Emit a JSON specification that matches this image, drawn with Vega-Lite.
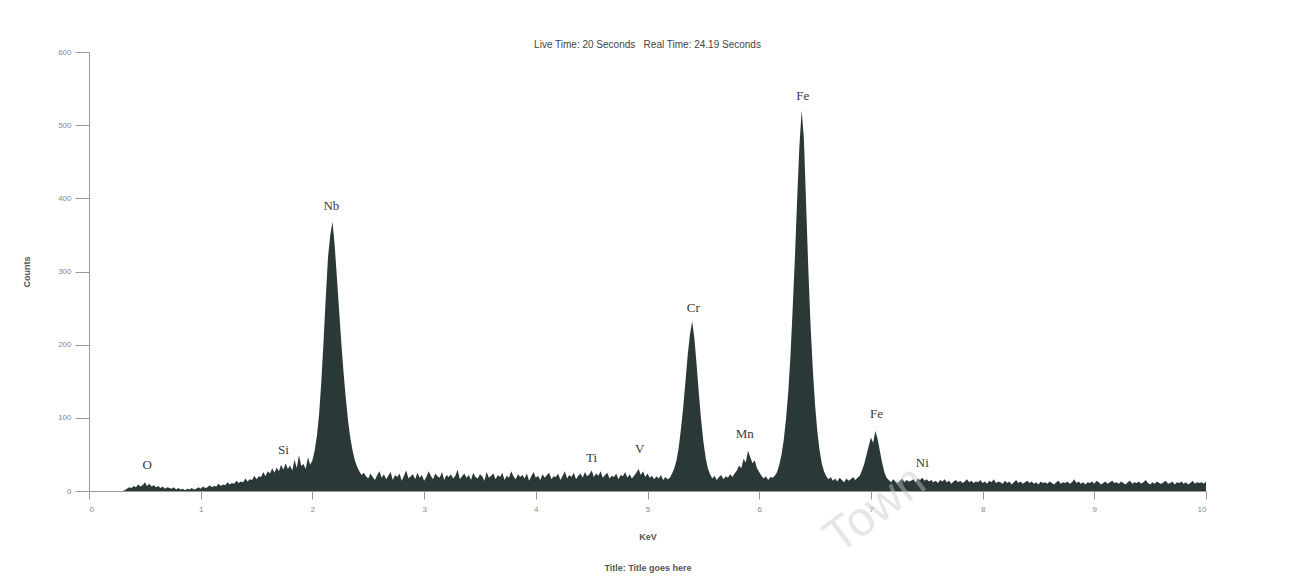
{
  "$schema": "https://vega.github.io/schema/vega-lite/v6.json",
  "width": 1117,
  "height": 439,
  "autosize": "none",
  "padding": {"left": 89, "top": 52, "right": 87, "bottom": 85},
  "background": "white",
  "config": {"view": {"stroke": null}, "font": "Liberation Sans"},
  "title": {"text": "Live Time: 20 Seconds\u00a0\u00a0\u00a0Real Time: 24.19 Seconds", "fontSize": 10, "fontWeight": "normal", "color": "#444", "offset": -2},
  "datasets": {
    "spec": [
      {"e":0,"c":0},{"e":0.02,"c":0},{"e":0.04,"c":0},{"e":0.06,"c":0},{"e":0.08,"c":0},{"e":0.1,"c":0},{"e":0.12,"c":0},{"e":0.14,"c":0},{"e":0.16,"c":0},{"e":0.18,"c":0},{"e":0.2,"c":0},{"e":0.22,"c":0},{"e":0.24,"c":0},{"e":0.26,"c":0},{"e":0.28,"c":0},{"e":0.3,"c":0},
      {"e":0.32,"c":1},{"e":0.34,"c":3},{"e":0.36,"c":5},{"e":0.38,"c":4},{"e":0.4,"c":7},{"e":0.42,"c":5},{"e":0.44,"c":9},{"e":0.46,"c":6},{"e":0.48,"c":8},{"e":0.5,"c":12},{"e":0.52,"c":7},{"e":0.54,"c":10},{"e":0.56,"c":6},{"e":0.58,"c":8},{"e":0.6,"c":5},{"e":0.62,"c":7},{"e":0.64,"c":4},{"e":0.66,"c":6},{"e":0.68,"c":3},{"e":0.7,"c":5},{"e":0.72,"c":4},{"e":0.74,"c":3},{"e":0.76,"c":5},{"e":0.78,"c":2},{"e":0.8,"c":4},{"e":0.82,"c":2},{"e":0.84,"c":3},{"e":0.86,"c":1},{"e":0.88,"c":3},{"e":0.9,"c":2},{"e":0.92,"c":4},{"e":0.94,"c":2},{"e":0.96,"c":3},{"e":0.98,"c":5},
      {"e":1,"c":3},{"e":1.02,"c":6},{"e":1.04,"c":4},{"e":1.06,"c":5},{"e":1.08,"c":8},{"e":1.1,"c":5},{"e":1.12,"c":7},{"e":1.14,"c":6},{"e":1.16,"c":10},{"e":1.18,"c":7},{"e":1.2,"c":9},{"e":1.22,"c":8},{"e":1.24,"c":12},{"e":1.26,"c":9},{"e":1.28,"c":11},{"e":1.3,"c":10},{"e":1.32,"c":14},{"e":1.34,"c":11},{"e":1.36,"c":13},{"e":1.38,"c":12},{"e":1.4,"c":17},{"e":1.42,"c":13},{"e":1.44,"c":16},{"e":1.46,"c":15},{"e":1.48,"c":21},{"e":1.5,"c":16},{"e":1.52,"c":20},{"e":1.54,"c":19},{"e":1.56,"c":26},{"e":1.58,"c":20},{"e":1.6,"c":27},{"e":1.62,"c":24},{"e":1.64,"c":31},{"e":1.66,"c":25},{"e":1.68,"c":32},{"e":1.7,"c":27},{"e":1.72,"c":36},{"e":1.74,"c":29},{"e":1.76,"c":38},{"e":1.78,"c":30},{"e":1.8,"c":35},{"e":1.82,"c":28},{"e":1.84,"c":43},{"e":1.86,"c":31},{"e":1.88,"c":49},{"e":1.9,"c":34},{"e":1.92,"c":37},{"e":1.94,"c":30},{"e":1.96,"c":46},{"e":1.98,"c":36},{"e":2,"c":42},
      {"e":2.02,"c":55},{"e":2.04,"c":75},{"e":2.06,"c":105},{"e":2.08,"c":150},{"e":2.1,"c":205},{"e":2.12,"c":265},{"e":2.14,"c":320},{"e":2.16,"c":350},{"e":2.18,"c":368},{"e":2.2,"c":335},{"e":2.22,"c":290},{"e":2.24,"c":245},{"e":2.26,"c":200},{"e":2.28,"c":160},{"e":2.3,"c":125},{"e":2.32,"c":95},{"e":2.34,"c":72},{"e":2.36,"c":55},{"e":2.38,"c":42},{"e":2.4,"c":33},{"e":2.42,"c":27},{"e":2.44,"c":22},{"e":2.46,"c":25},
      {"e":2.48,"c":20},{"e":2.5,"c":17},{"e":2.52,"c":24},{"e":2.54,"c":19},{"e":2.56,"c":15},{"e":2.58,"c":22},{"e":2.6,"c":27},{"e":2.62,"c":18},{"e":2.64,"c":23},{"e":2.66,"c":16},
      {"e":2.68,"c":21},{"e":2.7,"c":26},{"e":2.72,"c":15},{"e":2.74,"c":22},{"e":2.76,"c":19},{"e":2.78,"c":24},{"e":2.8,"c":14},{"e":2.82,"c":21},{"e":2.84,"c":28},{"e":2.86,"c":17},
      {"e":2.88,"c":20},{"e":2.9,"c":23},{"e":2.92,"c":16},{"e":2.94,"c":25},{"e":2.96,"c":18},{"e":2.98,"c":22},{"e":3,"c":14},{"e":3.02,"c":19},{"e":3.04,"c":27},{"e":3.06,"c":21},
      {"e":3.08,"c":16},{"e":3.1,"c":24},{"e":3.12,"c":20},{"e":3.14,"c":18},{"e":3.16,"c":26},{"e":3.18,"c":15},{"e":3.2,"c":22},{"e":3.22,"c":19},{"e":3.24,"c":23},{"e":3.26,"c":17},
      {"e":3.28,"c":21},{"e":3.3,"c":29},{"e":3.32,"c":16},{"e":3.34,"c":20},{"e":3.36,"c":24},{"e":3.38,"c":18},{"e":3.4,"c":22},{"e":3.42,"c":15},{"e":3.44,"c":25},{"e":3.46,"c":19},
      {"e":3.48,"c":17},{"e":3.5,"c":23},{"e":3.52,"c":20},{"e":3.54,"c":14},{"e":3.56,"c":26},{"e":3.58,"c":18},{"e":3.6,"c":21},{"e":3.62,"c":24},{"e":3.64,"c":16},{"e":3.66,"c":22},
      {"e":3.68,"c":19},{"e":3.7,"c":25},{"e":3.72,"c":15},{"e":3.74,"c":21},{"e":3.76,"c":18},{"e":3.78,"c":27},{"e":3.8,"c":20},{"e":3.82,"c":16},{"e":3.84,"c":23},{"e":3.86,"c":19},
      {"e":3.88,"c":22},{"e":3.9,"c":17},{"e":3.92,"c":24},{"e":3.94,"c":14},{"e":3.96,"c":20},{"e":3.98,"c":26},{"e":4,"c":18},{"e":4.02,"c":21},{"e":4.04,"c":15},{"e":4.06,"c":23},
      {"e":4.08,"c":18},{"e":4.1,"c":22},{"e":4.12,"c":25},{"e":4.14,"c":16},{"e":4.16,"c":20},{"e":4.18,"c":19},{"e":4.2,"c":24},{"e":4.22,"c":15},{"e":4.24,"c":21},{"e":4.26,"c":27},
      {"e":4.28,"c":17},{"e":4.3,"c":22},{"e":4.32,"c":19},{"e":4.34,"c":25},{"e":4.36,"c":16},{"e":4.38,"c":21},{"e":4.4,"c":24},{"e":4.42,"c":18},{"e":4.44,"c":26},{"e":4.46,"c":20},
      {"e":4.48,"c":23},{"e":4.5,"c":28},{"e":4.52,"c":19},{"e":4.54,"c":24},{"e":4.56,"c":21},{"e":4.58,"c":27},{"e":4.6,"c":18},{"e":4.62,"c":22},{"e":4.64,"c":25},{"e":4.66,"c":17},
      {"e":4.68,"c":21},{"e":4.7,"c":19},{"e":4.72,"c":24},{"e":4.74,"c":16},{"e":4.76,"c":22},{"e":4.78,"c":20},{"e":4.8,"c":26},{"e":4.82,"c":18},{"e":4.84,"c":23},{"e":4.86,"c":17},
      {"e":4.88,"c":21},{"e":4.9,"c":25},{"e":4.92,"c":30},{"e":4.94,"c":22},{"e":4.96,"c":27},{"e":4.98,"c":19},{"e":5,"c":24},{"e":5.02,"c":18},{"e":5.04,"c":21},{"e":5.06,"c":16},
      {"e":5.08,"c":20},{"e":5.1,"c":17},{"e":5.12,"c":22},{"e":5.14,"c":15},{"e":5.16,"c":19},{"e":5.18,"c":16},
      {"e":5.2,"c":18},{"e":5.22,"c":24},{"e":5.24,"c":31},{"e":5.26,"c":42},{"e":5.28,"c":60},{"e":5.3,"c":85},{"e":5.32,"c":115},{"e":5.34,"c":150},{"e":5.36,"c":186},{"e":5.38,"c":214},{"e":5.4,"c":232},{"e":5.42,"c":208},{"e":5.44,"c":172},{"e":5.46,"c":133},{"e":5.48,"c":97},{"e":5.5,"c":68},{"e":5.52,"c":46},{"e":5.54,"c":31},{"e":5.56,"c":23},
      {"e":5.58,"c":17},{"e":5.6,"c":21},{"e":5.62,"c":15},{"e":5.64,"c":19},{"e":5.66,"c":22},{"e":5.68,"c":16},{"e":5.7,"c":20},{"e":5.72,"c":18},{"e":5.74,"c":23},{"e":5.76,"c":19},
      {"e":5.78,"c":24},{"e":5.8,"c":28},{"e":5.82,"c":35},{"e":5.84,"c":31},{"e":5.86,"c":44},{"e":5.88,"c":39},{"e":5.9,"c":55},{"e":5.92,"c":46},{"e":5.94,"c":38},{"e":5.96,"c":42},{"e":5.98,"c":31},
      {"e":6,"c":26},{"e":6.02,"c":21},{"e":6.04,"c":17},{"e":6.06,"c":20},{"e":6.08,"c":15},{"e":6.1,"c":19},{"e":6.12,"c":18},
      {"e":6.14,"c":21},{"e":6.16,"c":26},{"e":6.18,"c":36},{"e":6.2,"c":50},{"e":6.22,"c":70},{"e":6.24,"c":98},{"e":6.26,"c":135},{"e":6.28,"c":185},{"e":6.3,"c":250},{"e":6.32,"c":320},{"e":6.34,"c":400},{"e":6.36,"c":472},{"e":6.38,"c":520},{"e":6.4,"c":482},{"e":6.42,"c":392},{"e":6.44,"c":302},{"e":6.46,"c":226},{"e":6.48,"c":166},{"e":6.5,"c":118},{"e":6.52,"c":82},{"e":6.54,"c":56},{"e":6.56,"c":38},{"e":6.58,"c":27},{"e":6.6,"c":20},
      {"e":6.62,"c":16},{"e":6.64,"c":19},{"e":6.66,"c":14},{"e":6.68,"c":17},{"e":6.7,"c":13},{"e":6.72,"c":18},{"e":6.74,"c":15},{"e":6.76,"c":12},{"e":6.78,"c":17},{"e":6.8,"c":14},{"e":6.82,"c":16},{"e":6.84,"c":19},{"e":6.86,"c":15},{"e":6.88,"c":18},
      {"e":6.9,"c":21},{"e":6.92,"c":28},{"e":6.94,"c":37},{"e":6.96,"c":49},{"e":6.98,"c":61},{"e":7,"c":73},{"e":7.02,"c":66},{"e":7.04,"c":82},{"e":7.06,"c":71},{"e":7.08,"c":55},{"e":7.1,"c":39},{"e":7.12,"c":26},{"e":7.14,"c":18},
      {"e":7.16,"c":15},{"e":7.18,"c":12},{"e":7.2,"c":16},{"e":7.22,"c":13},{"e":7.24,"c":11},{"e":7.26,"c":14},{"e":7.28,"c":17},{"e":7.3,"c":12},{"e":7.32,"c":15},{"e":7.34,"c":13},
      {"e":7.36,"c":14},{"e":7.38,"c":16},{"e":7.4,"c":12},{"e":7.42,"c":17},{"e":7.44,"c":15},{"e":7.46,"c":18},{"e":7.48,"c":14},{"e":7.5,"c":16},{"e":7.52,"c":13},{"e":7.54,"c":15},
      {"e":7.56,"c":12},{"e":7.58,"c":14},{"e":7.6,"c":11},{"e":7.62,"c":15},{"e":7.64,"c":13},{"e":7.66,"c":16},{"e":7.68,"c":12},{"e":7.7,"c":14},{"e":7.72,"c":10},{"e":7.74,"c":13},
      {"e":7.76,"c":15},{"e":7.78,"c":12},{"e":7.8,"c":14},{"e":7.82,"c":11},{"e":7.84,"c":13},{"e":7.86,"c":16},{"e":7.88,"c":12},{"e":7.9,"c":14},{"e":7.92,"c":11},{"e":7.94,"c":13},
      {"e":7.96,"c":12},{"e":7.98,"c":15},{"e":8,"c":11},{"e":8.02,"c":13},{"e":8.04,"c":10},{"e":8.06,"c":14},{"e":8.08,"c":12},{"e":8.1,"c":16},{"e":8.12,"c":11},{"e":8.14,"c":13},
      {"e":8.16,"c":12},{"e":8.18,"c":10},{"e":8.2,"c":14},{"e":8.22,"c":11},{"e":8.24,"c":13},{"e":8.26,"c":9},{"e":8.28,"c":12},{"e":8.3,"c":15},{"e":8.32,"c":11},{"e":8.34,"c":13},
      {"e":8.36,"c":10},{"e":8.38,"c":12},{"e":8.4,"c":14},{"e":8.42,"c":11},{"e":8.44,"c":13},{"e":8.46,"c":10},{"e":8.48,"c":12},{"e":8.5,"c":9},{"e":8.52,"c":13},{"e":8.54,"c":11},
      {"e":8.56,"c":12},{"e":8.58,"c":10},{"e":8.6,"c":13},{"e":8.62,"c":11},{"e":8.64,"c":9},{"e":8.66,"c":12},{"e":8.68,"c":14},{"e":8.7,"c":10},{"e":8.72,"c":12},{"e":8.74,"c":11},
      {"e":8.76,"c":13},{"e":8.78,"c":10},{"e":8.8,"c":12},{"e":8.82,"c":16},{"e":8.84,"c":11},{"e":8.86,"c":13},{"e":8.88,"c":10},{"e":8.9,"c":12},{"e":8.92,"c":9},{"e":8.94,"c":12},
      {"e":8.96,"c":11},{"e":8.98,"c":13},{"e":9,"c":10},{"e":9.02,"c":14},{"e":9.04,"c":12},{"e":9.06,"c":9},{"e":9.08,"c":11},{"e":9.1,"c":13},{"e":9.12,"c":10},{"e":9.14,"c":12},
      {"e":9.16,"c":14},{"e":9.18,"c":11},{"e":9.2,"c":12},{"e":9.22,"c":10},{"e":9.24,"c":13},{"e":9.26,"c":11},{"e":9.28,"c":9},{"e":9.3,"c":12},{"e":9.32,"c":14},{"e":9.34,"c":10},
      {"e":9.36,"c":12},{"e":9.38,"c":11},{"e":9.4,"c":13},{"e":9.42,"c":10},{"e":9.44,"c":12},{"e":9.46,"c":15},{"e":9.48,"c":11},{"e":9.5,"c":9},{"e":9.52,"c":12},{"e":9.54,"c":10},
      {"e":9.56,"c":13},{"e":9.58,"c":11},{"e":9.6,"c":10},{"e":9.62,"c":12},{"e":9.64,"c":14},{"e":9.66,"c":10},{"e":9.68,"c":11},{"e":9.7,"c":13},{"e":9.72,"c":9},{"e":9.74,"c":12},
      {"e":9.76,"c":11},{"e":9.78,"c":13},{"e":9.8,"c":10},{"e":9.82,"c":12},{"e":9.84,"c":9},{"e":9.86,"c":11},{"e":9.88,"c":14},{"e":9.9,"c":10},{"e":9.92,"c":12},{"e":9.94,"c":11},
      {"e":9.96,"c":12},{"e":9.98,"c":10},{"e":10,"c":13}
    ],
    "labels": [
      {"e":0.52,"c":36,"t":"O"},
      {"e":1.74,"c":56,"t":"Si"},
      {"e":2.17,"c":389,"t":"Nb"},
      {"e":4.5,"c":45,"t":"Ti"},
      {"e":4.93,"c":57,"t":"V"},
      {"e":5.41,"c":250,"t":"Cr"},
      {"e":5.87,"c":78,"t":"Mn"},
      {"e":6.39,"c":540,"t":"Fe"},
      {"e":7.05,"c":105,"t":"Fe"},
      {"e":7.46,"c":38,"t":"Ni"}
    ],
    "watermark": [{"e":7.04,"c":-26,"t":"Town"}]
  },
  "layer": [
    {
      "data": {"name": "spec"},
      "mark": {"type": "area", "color": "#2a3937", "interpolate": "linear"},
      "encoding": {
        "x": {"field": "e", "type": "quantitative", "scale": {"domain": [0, 10], "nice": false},
          "axis": {"values": [0,1,2,3,4,5,6,7,8,9,10], "format": "d", "tickSize": 8, "labelPadding": 6, "labelFontSize": 8, "labelColor": "#888", "domainColor": "#999", "tickColor": "#999", "grid": false,
            "title": ["KeV", "Title: Title goes here"], "titleFontSize": 9, "titleFontWeight": "bold", "titleColor": "#555", "titlePadding": 19, "titleLineHeight": 31}},
        "y": {"field": "c", "type": "quantitative", "scale": {"domain": [0, 600], "nice": false},
          "axis": {"values": [0,100,200,300,400,500,600], "tickSize": 14, "labelPadding": 4, "labelFontSize": 8, "labelColor": "#888", "domainColor": "#999", "tickColor": "#999", "grid": false,
            "title": "Counts", "titleFontSize": 9, "titleFontWeight": "bold", "titleColor": "#555", "titlePadding": 26}}
      }
    },
    {
      "data": {"name": "labels"},
      "mark": {"type": "text", "font": "Liberation Serif", "fontSize": 13, "color": "#3a3a3a"},
      "encoding": {
        "x": {"field": "e", "type": "quantitative"},
        "y": {"field": "c", "type": "quantitative"},
        "text": {"field": "t"}
      }
    },
    {
      "data": {"name": "watermark"},
      "mark": {"type": "text", "fontSize": 48, "font": "Liberation Sans", "angle": 323, "color": "#c8c8c8", "opacity": 0.45, "clip": false},
      "encoding": {
        "x": {"field": "e", "type": "quantitative"},
        "y": {"field": "c", "type": "quantitative"},
        "text": {"field": "t"}
      }
    }
  ]
}
